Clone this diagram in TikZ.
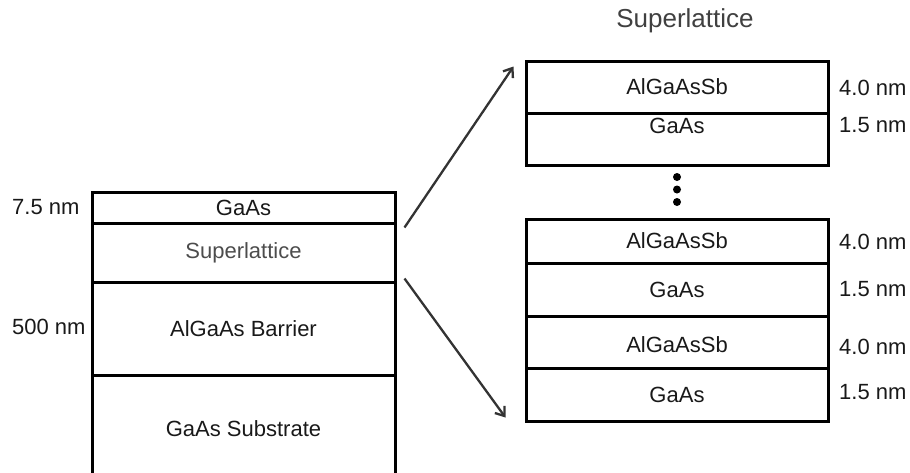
\documentclass[tikz,border=0pt]{standalone}
\usepackage{fontspec}
\setmainfont{Liberation Sans}
\usepackage{tikz}
\usetikzlibrary{arrows.meta}

\begin{document}
\begin{tikzpicture}[x=1pt,y=-1pt,font=\fontsize{22}{26}\selectfont]
            \useasboundingbox (0,0) rectangle (910,472);
            \begin{scope}[every node/.style={rectangle,draw,line width=3pt,inner sep=0pt,text=black!90}]
                % sample stack
                \node[minimum width=303,minimum height=31] (cap) at (243.5,207.5) {GaAs};
                \node[minimum width=303,minimum height=59,text=black!70] (sl) at (243.5,252.5) {Superlattice};
                \node[minimum width=303,minimum height=93] (bar) at (243.5,328.5) {AlGaAs Barrier};
                \node[minimum width=303,minimum height=107] (sub) at (243.5,428.5) {GaAs Substrate};
                % superlattice, top period
                \node[minimum width=302,minimum height=52] (t1) at (677,87) {AlGaAsSb};
                \node[minimum width=302,minimum height=52,text height=16pt,text depth=27pt] (t2) at (677,139) {GaAs};
                % superlattice, bottom periods
                \node[minimum width=302,minimum height=44] (b1) at (677,241) {AlGaAsSb};
                \node[minimum width=302,minimum height=53] (b2) at (677,289.5) {GaAs};
                \node[minimum width=302,minimum height=52,text height=27pt,text depth=6pt] (b3) at (677,342) {AlGaAsSb};
                \node[minimum width=302,minimum height=53] (b4) at (677,394.5) {GaAs};
            \end{scope}

            \begin{scope}[every node/.style={circle,fill=black,inner sep=0pt,minimum size=8pt}]
                \node (d1) at (677,177) {};
                \node (d2) at (677,189.5) {};
                \node (d3) at (677,202) {};
            \end{scope}

            \begin{scope}[every node/.style={anchor=west,inner sep=0pt,text=black!90}]
                \node (lcap) at (12,207) {7.5 nm};
                \node (lbar) at (12,327) {500 nm};
                \node (lt1) at (839,88) {4.0 nm};
                \node (lt2) at (839,125) {1.5 nm};
                \node (lb1) at (839,242) {4.0 nm};
                \node (lb2) at (839,289) {1.5 nm};
                \node (lb3) at (839,347) {4.0 nm};
                \node (lb4) at (839,392) {1.5 nm};
            \end{scope}
            \node[text=black!75,font=\fontsize{26}{30}\selectfont] (title) at (685,21) {Superlattice};

            \coordinate (up) at ([shift={(8,6)}]sl.north east);
            \coordinate (down) at ([shift={(8,-5)}]sl.south east);
            \begin{scope}[every path/.style={draw=black!80,line width=2.3pt}]
                \path[-{Straight Barb[length=8pt,width=12pt]}] (up) -- ([shift={(-11,7)}]t1.north west);
                \path[-{Straight Barb[length=8pt,width=12pt]}] (down) -- ([shift={(-19,-5)}]b4.south west);
            \end{scope}

            \end{tikzpicture}
\end{document}
